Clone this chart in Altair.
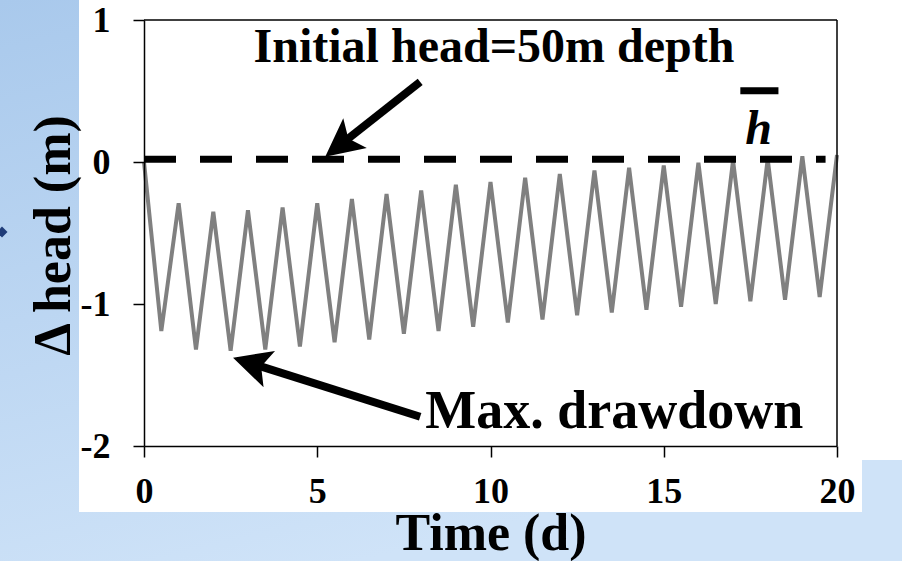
import math
import altair as alt
import pandas as pd

# ---------------- data ----------------
time_d = [0.0, 0.5, 1.0, 1.5, 2.0, 2.5, 3.0, 3.5, 4.0, 4.5, 5.0, 5.5, 6.0, 6.5,
          7.0, 7.5, 8.0, 8.5, 9.0, 9.5, 10.0, 10.5, 11.0, 11.5, 12.0, 12.5,
          13.0, 13.5, 14.0, 14.5, 15.0, 15.5, 16.0, 16.5, 17.0, 17.5, 18.0,
          18.5, 19.0, 19.5, 20.0]
delta_head = [0.0, -1.19, -0.29, -1.32, -0.35, -1.33, -0.34, -1.32, -0.32, -1.30,
              -0.29, -1.27, -0.26, -1.25, -0.225, -1.21, -0.20, -1.19, -0.16, -1.16,
              -0.14, -1.13, -0.11, -1.11, -0.085, -1.08, -0.06, -1.06, -0.04, -1.04,
              -0.025, -1.02, -0.005, -1.00, 0.01, -0.98, 0.02, -0.97, 0.04, -0.95, 0.05]

x_ticks = [0, 5, 10, 15, 20]
y_ticks = [-2, -1, 0, 1]
x_title = "Time (d)"
y_title = "Δ head (m)"

init_level = [0.02]
init_start = [0.0]
init_end = [19.67]

note_text = ["Initial head=50m depth", "Max. drawdown"]
note_t = [10.1, 13.57]
note_v = [0.706, -1.873]
note_size = [48, 54]

arrow_tail_t = [7.97, 7.97]
arrow_tail_v = [0.565, -1.794]
arrow_tip_t = [5.23, 2.57]
arrow_tip_v = [0.037, -1.378]

hbar_t = [17.21]
hbar_t2 = [18.31]
hbar_v = [0.502]
hlabel = ["h"]
hlabel_t = [17.74]
hlabel_v = [0.128]

# ---------------- layout ----------------
W, H = 693, 426
PX_T = W / 20.0
PX_V = H / 3.0
FONT = "Liberation Serif"

line_df = pd.DataFrame({"t": time_d, "v": delta_head})
dummy = pd.DataFrame({"d": [0]})

shaft_rows, head_rows = [], []
for tt, tv, pt, pv in zip(arrow_tail_t, arrow_tail_v, arrow_tip_t, arrow_tip_v):
    dx = (pt - tt) * PX_T
    dy = -(pv - tv) * PX_V
    L = math.hypot(dx, dy)
    ux, uy = dx / L, dy / L
    ang = math.degrees(math.atan2(ux, -uy)) % 360
    head_rows.append({"t": pt - ux * 19 / PX_T, "v": pv + uy * 19 / PX_V, "ang": ang})
    shaft_rows.append({"t": tt, "v": tv, "t2": pt - ux * 24 / PX_T, "v2": pv + uy * 24 / PX_V})
shaft_df = pd.DataFrame(shaft_rows)
head_df = pd.DataFrame(head_rows)

xscale = alt.Scale(domain=[0, 20], nice=False)
yscale = alt.Scale(domain=[-2, 1], nice=False)

x_axis = alt.Axis(values=x_ticks, title=x_title, zindex=1, labelBaseline="alphabetic",
                  labelPadding=45, labelFlush=False, titleY=103,
                  titleBaseline="alphabetic", labelExpr="'' + datum.value")
y_axis = alt.Axis(values=y_ticks, title=y_title, zindex=1, labelPadding=23,
                  labelFlush=False, titleX=-75, titleY=215,
                  titleBaseline="alphabetic", titleAngle=270,
                  labelExpr="'' + datum.value")


def X(f):
    return alt.X(f, type="quantitative", scale=xscale, axis=x_axis, title=x_title)


def Y(f):
    return alt.Y(f, type="quantitative", scale=yscale, axis=y_axis, title=y_title)


bg = alt.Chart(dummy).mark_rect(
    color=alt.LinearGradient(gradient="linear",
                             stops=[alt.GradientStop(offset=0, color="#a9c9ec"),
                                    alt.GradientStop(offset=1, color="#cfe3f8")],
                             x1=0, x2=0.4, y1=0, y2=1)
).encode(x=alt.value(-144), x2=alt.value(758), y=alt.value(-20), y2=alt.value(541))

white1 = alt.Chart(dummy).mark_rect(color="white").encode(
    x=alt.value(-65), x2=alt.value(758), y=alt.value(-20), y2=alt.value(440))
white2 = alt.Chart(dummy).mark_rect(color="white").encode(
    x=alt.value(-65), x2=alt.value(718), y=alt.value(440), y2=alt.value(492))

bullet = alt.Chart(dummy).mark_point(shape="diamond", filled=True, color="#1f3c78",
                                     size=121, opacity=1).encode(
    x=alt.value(-142), y=alt.value(212))

line = alt.Chart(line_df).mark_line(color="#808080", strokeWidth=4).encode(
    x=X("t"), y=Y("v"))

dash = alt.Chart(pd.DataFrame({"t": init_start, "t2": init_end, "v": init_level})).mark_rule(
    color="black", strokeWidth=7, strokeDash=[32, 24]).encode(
    x=X("t"), x2="t2", y=Y("v"))

frame_top = alt.Chart(pd.DataFrame({"t": [0], "t2": [20], "v": [1]})).mark_rule(
    color="black", strokeWidth=1.5).encode(x=X("t"), x2="t2", y=Y("v"))
frame_right = alt.Chart(pd.DataFrame({"t": [20], "v": [-2], "v2": [1]})).mark_rule(
    color="black", strokeWidth=1.5).encode(x=X("t"), y=Y("v"), y2="v2")

shafts = alt.Chart(shaft_df).mark_rule(color="black", strokeWidth=8).encode(
    x=X("t"), x2="t2", y=Y("v"), y2="v2")
heads = alt.Chart(head_df).mark_point(shape="M0,-1L1,1L0,0.55L-1,1Z", filled=True,
                                      color="black", size=1444, opacity=1).encode(
    x=X("t"), y=Y("v"), angle=alt.Angle("ang:Q", scale=None))

notes = alt.Chart(pd.DataFrame({"txt": note_text, "t": note_t, "v": note_v,
                                "s": note_size})).mark_text(
    font=FONT, fontWeight="bold", color="black", align="center", baseline="alphabetic").encode(
    x=X("t"), y=Y("v"), text="txt:N", size=alt.Size("s:Q", scale=None))

hbar = alt.Chart(pd.DataFrame({"t": hbar_t, "t2": hbar_t2, "v": hbar_v})).mark_rule(
    color="black", strokeWidth=7).encode(x=X("t"), x2="t2", y=Y("v"))
htext = alt.Chart(pd.DataFrame({"txt": hlabel, "t": hlabel_t, "v": hlabel_v})).mark_text(
    font=FONT, fontWeight="bold", fontStyle="italic", fontSize=48, color="black",
    align="center", baseline="alphabetic").encode(x=X("t"), y=Y("v"), text="txt:N")

chart = alt.layer(bg, white1, white2, bullet, line, dash, frame_top, frame_right,
                  shafts, heads, notes, hbar, htext).properties(
    width=W, height=H,
    autosize=alt.AutoSizeParams(type="none"),
    padding={"left": 144, "top": 20, "right": 65, "bottom": 115},
    background="#c3dbf3",
).configure_view(stroke=None).configure_axis(
    grid=False,
    domainColor="black", domainWidth=1.5,
    tickColor="black", tickWidth=1.5, tickSize=11,
    labelFont=FONT, labelFontWeight="bold", labelFontSize=36, labelColor="black",
    titleFont=FONT, titleFontWeight="bold", titleFontSize=52, titleColor="black",
)

chart.save("out.html", embed_options={"renderer": "svg", "actions": False})
